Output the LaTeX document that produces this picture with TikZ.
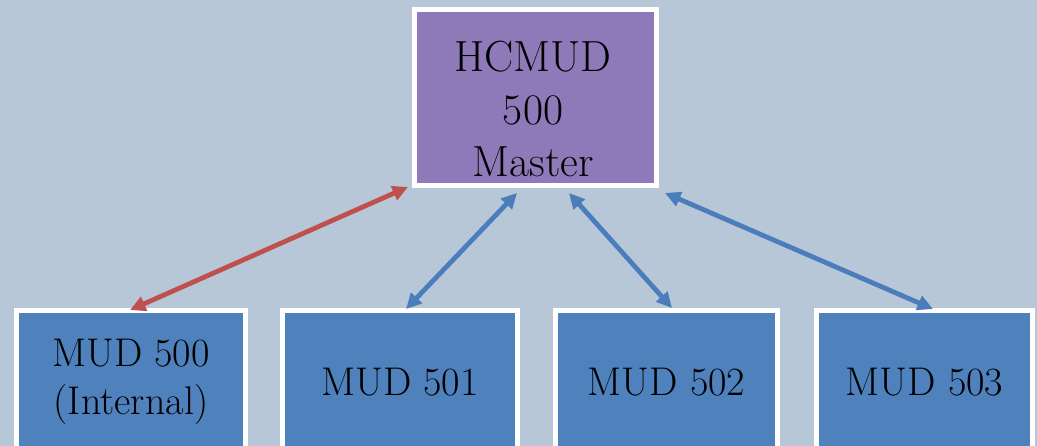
\documentclass[tikz,border=0pt]{standalone}
\usepackage{tikz}
\usetikzlibrary{arrows.meta,calc}
\definecolor{bgblue}{RGB}{183,199,216}
\definecolor{masterpurple}{RGB}{143,122,185}
\definecolor{mudblue}{RGB}{79,129,189}
\definecolor{linkred}{RGB}{192,80,77}
\definecolor{linkblue}{RGB}{74,126,187}

\begin{document}
\begin{tikzpicture}[x=0.025cm,y=-0.025cm,
  box/.style={draw=white,line width=3.5pt,rectangle,inner sep=0pt,align=center,text=black},
  masterbox/.style={box,fill=masterpurple,minimum width=6.05cm,minimum height=4.4cm},
  mastertext/.style={align=center,inner sep=0pt,font=\fontsize{31}{37.5}\selectfont},
  mudbox/.style={box,fill=mudblue,minimum height=3.575cm,font=\fontsize{28.5}{34}\selectfont},
  link/.style={line width=3.4pt,{Triangle[length=11pt,width=10.5pt]}-{Triangle[length=11pt,width=10.5pt]}}]
\fill[bgblue] (0,0) rectangle (1037,446);
\useasboundingbox (0,0) rectangle (1037,446);
% master unit
\node[masterbox] (master) at (535.5,97.5) {};
\node[mastertext] (mastertxt) at (533,109) {HCMUD\\500\\Master};
% slave units
\node[mudbox,minimum width=5.725cm] (mud500) at (131,382) {MUD 500\\(Internal)};
\node[mudbox,minimum width=5.875cm] (mud501) at (400,382) {MUD 501};
\node[mudbox,minimum width=5.55cm] (mud502) at (666.5,382) {MUD 502};
\node[mudbox,minimum width=5.4cm] (mud503) at (924.5,382) {MUD 503};
% links
\draw[link,linkred] ($(mud500.north)+(-1,2)$) -- ($(master.south west)+(-4,-1)$);
\draw[link,linkblue] ($(mud501.north)+(6,1)$) -- ($(master.south)+(-18.5,5)$);
\draw[link,linkblue] ($(mud502.north)+(5.5,0)$) -- ($(master.south)+(33.5,5)$);
\draw[link,linkblue] ($(mud503.north)+(8.5,1)$) -- ($(master.south east)+(6,5)$);
\end{tikzpicture}
\end{document}
